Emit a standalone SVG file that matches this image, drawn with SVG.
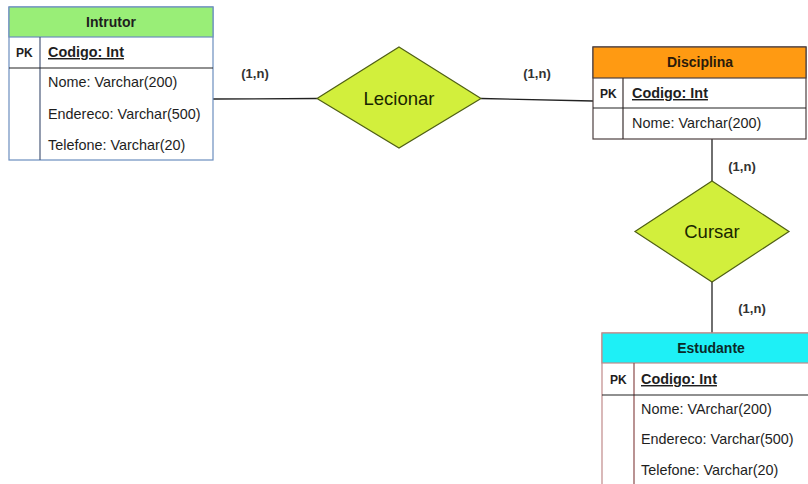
<svg xmlns="http://www.w3.org/2000/svg" width="808" height="484" viewBox="0 0 808 484">
  <style>
    .t { font-family: "Liberation Sans", Arial, sans-serif; font-size: 14.4px; fill: #1e1e1e; }
    .hd { font-family: "Liberation Sans", Arial, sans-serif; font-size: 14px; font-weight: bold; text-anchor: middle; }
    .pk { font-family: "Liberation Sans", Arial, sans-serif; font-size: 12px; font-weight: bold; fill: #1e1e1e; }
    .key { font-family: "Liberation Sans", Arial, sans-serif; font-size: 14.4px; font-weight: bold; fill: #1e1e1e; text-decoration: underline; }
    .card { font-family: "Liberation Sans", Arial, sans-serif; font-size: 13px; font-weight: bold; fill: #333; text-anchor: middle; }
    .rel { fill: #d2ef3c; stroke: #4f5f14; stroke-width: 1.2; }
    .relt { font-family: "Liberation Sans", Arial, sans-serif; font-size: 18.5px; fill: #1a2600; text-anchor: middle; }
    .conn { stroke: #222; stroke-width: 1.3; fill: none; }
    .sep { stroke: #222; stroke-width: 1.2; }
  </style>
  <rect width="808" height="484" fill="#ffffff"/>

  <!-- connectors -->
  <g id="connectors">
    <line class="conn" x1="213" y1="99" x2="317" y2="98.5"/>
    <line class="conn" x1="481" y1="98.5" x2="593" y2="101"/>
    <line class="conn" x1="712" y1="139" x2="712" y2="181"/>
    <line class="conn" x1="712" y1="282" x2="712" y2="333"/>
    <text class="card" x="255" y="78">(1,n)</text>
    <text class="card" x="537" y="78">(1,n)</text>
    <text class="card" x="742" y="171">(1,n)</text>
    <text class="card" x="752" y="313">(1,n)</text>
  </g>

  <!-- Intrutor entity -->
  <g id="intrutor">
    <rect x="9" y="7" width="204" height="153" fill="#ffffff" stroke="#6c8ebf" stroke-width="1.2"/>
    <rect x="9" y="7" width="204" height="30" fill="#99ee77" stroke="#6c8ebf" stroke-width="1.2"/>
    <line x1="40" y1="37" x2="40" y2="160" stroke="#4a5a7a" stroke-width="1.2"/>
    <line class="sep" x1="9" y1="68" x2="213" y2="68"/>
    <text class="hd" x="111" y="27" fill="#1e1e1e">Intrutor</text>
    <text class="pk" x="16" y="57">PK</text>
    <text class="key" x="48" y="57">Codigo: Int</text>
    <text class="t" x="48" y="87">Nome: Varchar(200)</text>
    <text class="t" x="48" y="119">Endereco: Varchar(500)</text>
    <text class="t" x="48" y="150">Telefone: Varchar(20)</text>
  </g>

  <!-- Lecionar relationship -->
  <g id="lecionar">
    <polygon class="rel" points="399,47 481,98.5 399,148 317,98.5"/>
    <text class="relt" x="399" y="105">Lecionar</text>
  </g>

  <!-- Disciplina entity -->
  <g id="disciplina">
    <rect x="593" y="47" width="213" height="92" fill="#ffffff" stroke="#4d4040" stroke-width="1.2"/>
    <rect x="593" y="47" width="213" height="31" fill="#ff9a12" stroke="#4d4040" stroke-width="1.2"/>
    <line x1="623" y1="78" x2="623" y2="139" stroke="#3a3030" stroke-width="1.2"/>
    <line class="sep" x1="593" y1="108" x2="806" y2="108"/>
    <text class="hd" x="700" y="67" fill="#2a1a0a">Disciplina</text>
    <text class="pk" x="600" y="98">PK</text>
    <text class="key" x="632" y="98">Codigo: Int</text>
    <text class="t" x="632" y="128">Nome: Varchar(200)</text>
  </g>

  <!-- Cursar relationship -->
  <g id="cursar">
    <polygon class="rel" points="712,181 789,231.5 712,282 635,231.5"/>
    <text class="relt" x="712" y="238">Cursar</text>
  </g>

  <!-- Estudante entity -->
  <g id="estudante">
    <rect x="602" y="333" width="220" height="170" fill="#ffffff" stroke="#c08a8a" stroke-width="1.2"/>
    <rect x="602" y="333" width="220" height="30" fill="#1ef0f6" stroke="#c08a8a" stroke-width="1.2"/>
    <line x1="634" y1="363" x2="634" y2="490" stroke="#8a4a4a" stroke-width="1.2"/>
    <line class="sep" x1="602" y1="395" x2="822" y2="395"/>
    <text class="hd" x="711" y="353" fill="#0a2a2a">Estudante</text>
    <text class="pk" x="610" y="384">PK</text>
    <text class="key" x="641" y="384">Codigo: Int</text>
    <text class="t" x="641" y="414">Nome: VArchar(200)</text>
    <text class="t" x="641" y="444">Endereco: Varchar(500)</text>
    <text class="t" x="641" y="475">Telefone: Varchar(20)</text>
  </g>
</svg>
